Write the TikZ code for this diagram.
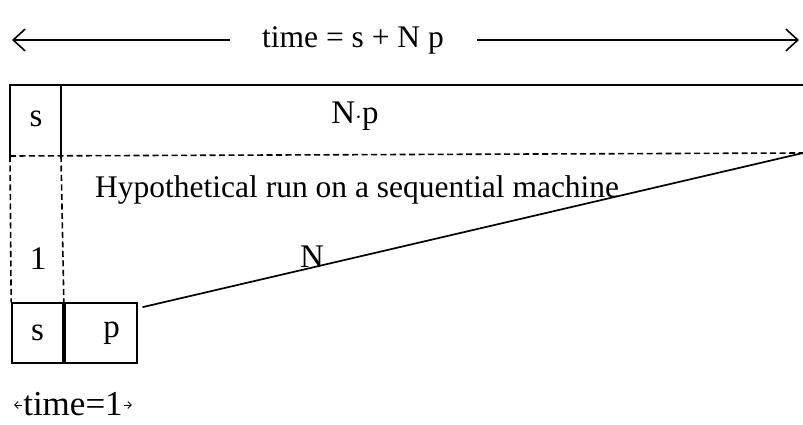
\documentclass[tikz,border=0pt]{standalone}
\usepackage{fontspec}
\setmainfont{Liberation Serif}
\usetikzlibrary{arrows.meta}
\begin{document}
\begin{tikzpicture}[x=1pt,y=-1pt,
  txt/.style={inner sep=0pt,font=\fontsize{31.5}{36}\selectfont},
  bigtxt/.style={inner sep=0pt,font=\fontsize{33}{38}\selectfont},
  solidln/.style={line width=1.7pt},
  dashln/.style={line width=1.6pt,dash pattern=on 6pt off 3.5pt},
  cell/.style={draw,line width=1.7pt,inner sep=0pt,minimum height=60pt,font=\fontsize{33}{38}\selectfont},
  bigarrow/.style={line width=1.6pt,-{Straight Barb[length=12pt,width=22pt,line width=1.6pt]}},
  tinyarrow/.style={line width=0.9pt,-{Straight Barb[length=3.5pt,width=7pt,line width=0.9pt]}}]
\useasboundingbox (0,0) rectangle (803,425);
% top time arrow
\node[txt] (ttime) at (353,40) {time = s + N p};
\coordinate (aleft) at (12,40);
\coordinate (aright) at (799,40);
\draw[bigarrow] (ttime.west) ++(-32,0) -- (aleft);
\draw[bigarrow] (ttime.east) ++(33,0) -- (aright);
% sequential run box
\coordinate (tl) at (10,85);
\coordinate (tr) at (803,85);
\coordinate (bl) at (10,156);
\coordinate (br) at (803,153);
\coordinate (sepT) at (61,85);
\coordinate (sepB) at (61,156);
\draw[solidln] (tr) -- (tl) -- (bl);
\draw[solidln] (sepT) -- (sepB);
\draw[dashln] (bl) -- (br);
\node[bigtxt] (ss) at (36,119) {s};
\node[bigtxt] (np) at (355,116) {N$\cdot$p};
% parallel unit box
\node[cell,minimum width=51pt] (ls) at (37.5,333) {s};
\node[cell,minimum width=72pt,anchor=west] (lp) at (ls.east) {\hspace*{22pt}p};
% dashed guides
\draw[dashln] (bl) -- (ls.north west);
\draw[dashln] (sepB) -- (ls.north east);
\node[bigtxt] (one) at (38,259) {1};
\node[txt,anchor=west] (hyp) at (95,190) {Hypothetical run on a sequential machine};
% slanted line
\draw[solidln] ([xshift=5pt,yshift=-5pt]lp.north east) -- (br);
\node[bigtxt] (nn) at (312,257) {N};
% time=1
\node[inner sep=0pt,font=\fontsize{35}{40}\selectfont] (t1) at (73,404) {time=1};
\draw[tinyarrow] (t1.west) ++(-1,1) -- ++(-8,0);
\draw[tinyarrow] (t1.east) ++(1,1) -- ++(8,0);
\end{tikzpicture}
\end{document}
